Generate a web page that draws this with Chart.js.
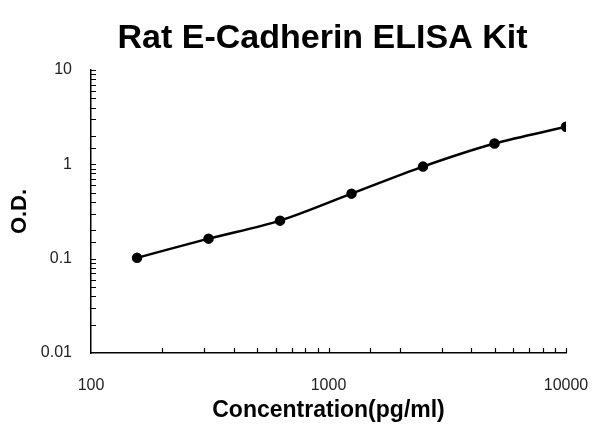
<!DOCTYPE html>
<html>
<head>
<meta charset="utf-8">
<script src="https://cdn.jsdelivr.net/npm/chart.js@4"></script>
<style>html,body{margin:0;padding:0;background:#fff;}canvas{display:block;}</style>
</head>
<body>
<canvas id="c" width="600" height="442"></canvas>
<script>
const concentrations = [156.25, 312.5, 625, 1250, 2500, 5000, 10000];
const odValues = [0.102, 0.163, 0.253, 0.489, 0.946, 1.66, 2.5];
const xTickLabels = [100, 1000, 10000];
const yTickLabels = [0.01, 0.1, 1, 10];
const chartTitle = 'Rat E-Cadherin ELISA Kit';
const xTitle = 'Concentration(pg/ml)';
const yTitle = 'O.D.';

const points = concentrations.map((x, i) => ({x: x, y: odValues[i]}));

const innerTicks = {
  id: 'innerTicks',
  afterLayout(chart) {
    if (chart.titleBlock) { chart.titleBlock.left -= 6; chart.titleBlock.right -= 6; }
  },
  afterDraw(chart) {
    const ctx = chart.ctx;
    const xs = chart.scales.x, ys = chart.scales.y;
    const area = chart.chartArea;
    ctx.save();
    ctx.strokeStyle = '#000';
    ctx.lineWidth = 1.2;
    ctx.beginPath();
    xs.ticks.forEach(t => {
      const px = Math.round(xs.getPixelForValue(t.value)) + 0.5;
      if (px <= area.left + 1) return;
      ctx.moveTo(px, area.bottom);
      ctx.lineTo(px, area.bottom - 5);
    });
    ys.ticks.forEach(t => {
      const py = Math.round(ys.getPixelForValue(t.value)) + 0.5;
      if (py >= area.bottom - 1) return;
      ctx.moveTo(area.left, py);
      ctx.lineTo(area.left + 5, py);
    });
    ctx.stroke();
    ctx.restore();
  }
};

new Chart(document.getElementById('c'), {
  type: 'line',
  data: {
    datasets: [{
      data: points,
      borderColor: '#000',
      backgroundColor: '#000',
      borderWidth: 2.5,
      pointRadius: 4,
      pointBackgroundColor: '#000',
      pointBorderColor: '#000',
      cubicInterpolationMode: 'monotone',
      fill: false
    }]
  },
  options: {
    responsive: false,
    animation: false,
    devicePixelRatio: 1,
    layout: {padding: {left: 0, right: 34, top: 0, bottom: 0}},
    plugins: {
      legend: {display: false},
      tooltip: {enabled: false},
      title: {
        display: true,
        text: chartTitle,
        fullSize: false,
        color: '#000',
        font: {family: 'Liberation Sans, Arial, sans-serif', size: 34, weight: 'bold'},
        padding: {top: 18, bottom: 11.2}
      }
    },
    scales: {
      x: {
        type: 'logarithmic',
        min: 100,
        max: 10000,
        afterFit(s) { s.height = 89; s.paddingLeft = 0; s.paddingRight = 0; },
        grid: {display: false, drawTicks: false},
        border: {display: true, color: '#000', width: 1.5},
        ticks: {
          color: '#222',
          padding: 23,
          maxRotation: 0,
          autoSkip: false,
          font: {family: 'Liberation Sans, Arial, sans-serif', size: 16},
          callback(v) { return xTickLabels.includes(v) ? String(v) : ''; }
        },
        title: {
          display: true,
          text: xTitle,
          color: '#000',
          font: {family: 'Liberation Sans, Arial, sans-serif', size: 23, weight: 'bold'},
          padding: {top: 0, bottom: 18}
        }
      },
      y: {
        type: 'logarithmic',
        min: 0.01,
        max: 10,
        afterFit(s) { s.width = 91; s.paddingTop = 0; s.paddingBottom = 0; },
        grid: {display: false, drawTicks: false},
        border: {display: true, color: '#000', width: 1.5},
        ticks: {
          color: '#222',
          padding: 19,
          autoSkip: false,
          font: {family: 'Liberation Sans, Arial, sans-serif', size: 16},
          callback(v) {
            const m = yTickLabels.find(t => Math.abs(t - v) / t < 1e-6);
            return m !== undefined ? String(m) : '';
          }
        },
        title: {
          display: true,
          text: yTitle,
          color: '#000',
          font: {family: 'Liberation Sans, Arial, sans-serif', size: 22, weight: 'bold'},
          padding: {top: 7, bottom: 0}
        }
      }
    }
  },
  plugins: [innerTicks]
});
</script>
</body>
</html>
